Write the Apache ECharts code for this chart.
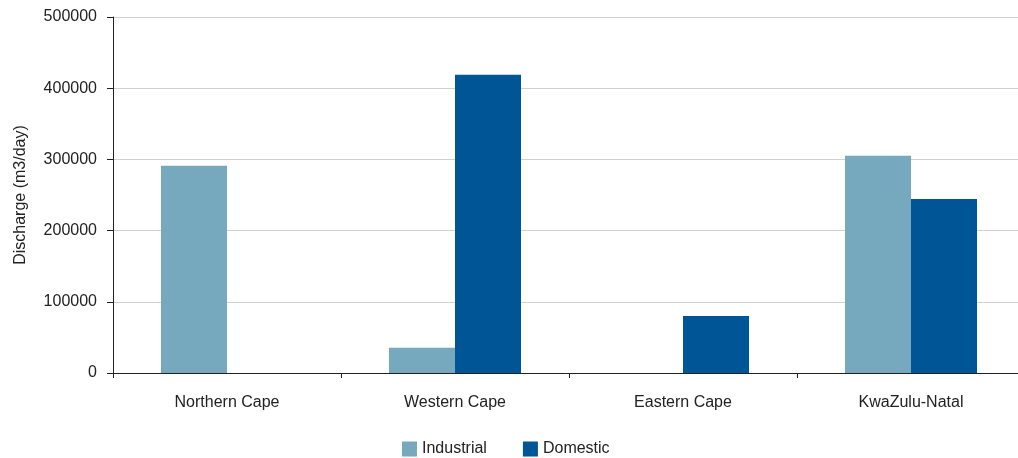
<!DOCTYPE html>
<html>
<head>
<meta charset="utf-8">
<script src="https://cdn.jsdelivr.net/npm/echarts@6/dist/echarts.min.js"></script>
<style>
html,body{margin:0;padding:0;background:#fff;}
#c{width:1018px;height:458px;}
</style>
</head>
<body>
<div id="c"></div>
<script>
const categories = ["Northern Cape", "Western Cape", "Eastern Cape", "KwaZulu-Natal"];
const industrial = [291000, 35500, 0, 305000];
const domestic = [0, 419000, 80000, 244500];
const yTicks = [0, 100000, 200000, 300000, 400000, 500000];

const chart = echarts.init(document.getElementById('c'), null, {renderer: 'canvas'});
const font = '"Liberation Sans", Arial, sans-serif';
chart.setOption({
  animation: false,
  textStyle: {fontFamily: font},
  grid: {left: 113, top: 17, width: 912, height: 356, outerBoundsMode: 'none', containLabel: false},
  legend: {
    left: 402, top: 441, padding: 0,
    itemWidth: 15, itemHeight: 15, itemGap: 36,
    icon: 'rect',
    textStyle: {fontFamily: font, fontSize: 16, color: '#222'},
    data: ['Industrial', 'Domestic']
  },
  xAxis: {
    type: 'category',
    data: categories,
    axisLine: {lineStyle: {color: '#222', width: 1}},
    axisTick: {show: true, length: 5, lineStyle: {color: '#222'}},
    axisLabel: {fontFamily: font, fontSize: 16, color: '#222', margin: 22}
  },
  yAxis: {
    type: 'value',
    min: yTicks[0], max: yTicks[yTicks.length - 1], interval: 100000,
    name: 'Discharge (m3/day)',
    nameLocation: 'middle',
    nameGap: 84,
    nameTextStyle: {fontFamily: font, fontSize: 16, color: '#222'},
    axisLine: {show: true, lineStyle: {color: '#222', width: 1}},
    axisTick: {show: true, length: 6, lineStyle: {color: '#222'}},
    axisLabel: {fontFamily: font, fontSize: 16, color: '#222', margin: 16,
      formatter: function (v) { return String(v); }},
    splitLine: {lineStyle: {color: '#d0d0d0', width: 1}}
  },
  series: [
    {name: 'Industrial', type: 'bar', data: industrial, barWidth: 66, barGap: '0%',
     itemStyle: {color: '#76a9be'}},
    {name: 'Domestic', type: 'bar', data: domestic, barWidth: 66, barGap: '0%',
     itemStyle: {color: '#005596'}}
  ]
});
</script>
</body>
</html>
